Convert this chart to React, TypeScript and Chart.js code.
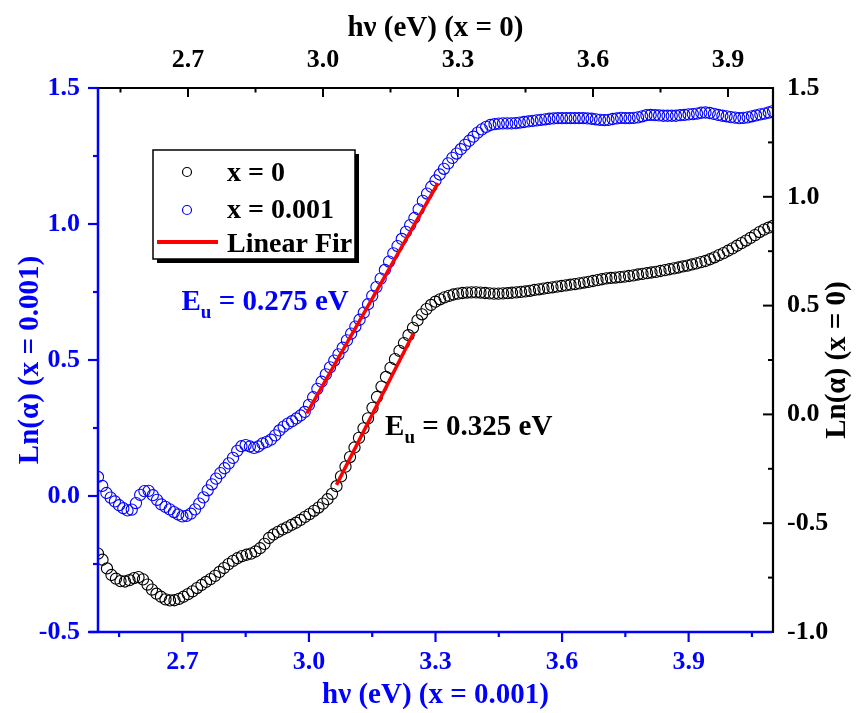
import React, { useEffect, useRef } from 'react';
import { Chart, registerables } from 'chart.js';

Chart.register(...registerables);

const FONT = "'Liberation Serif', 'Times New Roman', serif";
const BLUE = '#0000ff';
const RED = '#ff0000';

// x = 0 sample: photon energy (top axis, eV) and Ln(alpha) (right axis)
const energyX0: number[] = [
  2.50, 2.51, 2.52, 2.53, 2.54, 2.55, 2.56, 2.57, 2.58, 2.59,
  2.60, 2.61, 2.62, 2.63, 2.64, 2.65, 2.66, 2.67, 2.68, 2.69,
  2.70, 2.71, 2.72, 2.73, 2.74, 2.75, 2.76, 2.77, 2.78, 2.79,
  2.80, 2.81, 2.82, 2.83, 2.84, 2.85, 2.86, 2.87, 2.88, 2.89,
  2.90, 2.91, 2.92, 2.93, 2.94, 2.95, 2.96, 2.97, 2.98, 2.99,
  3.00, 3.01, 3.02, 3.03, 3.04, 3.05, 3.06, 3.07, 3.08, 3.09,
  3.10, 3.11, 3.12, 3.13, 3.14, 3.15, 3.16, 3.17, 3.18, 3.19,
  3.20, 3.21, 3.22, 3.23, 3.24, 3.25, 3.26, 3.27, 3.28, 3.29,
  3.30, 3.31, 3.32, 3.33, 3.34, 3.35, 3.36, 3.37, 3.38, 3.39,
  3.40, 3.41, 3.42, 3.43, 3.44, 3.45, 3.46, 3.47, 3.48, 3.49,
  3.50, 3.51, 3.52, 3.53, 3.54, 3.55, 3.56, 3.57, 3.58, 3.59,
  3.60, 3.61, 3.62, 3.63, 3.64, 3.65, 3.66, 3.67, 3.68, 3.69,
  3.70, 3.71, 3.72, 3.73, 3.74, 3.75, 3.76, 3.77, 3.78, 3.79,
  3.80, 3.81, 3.82, 3.83, 3.84, 3.85, 3.86, 3.87, 3.88, 3.89,
  3.90, 3.91, 3.92, 3.93, 3.94, 3.95, 3.96, 3.97, 3.98, 3.99,
  4.00,
];
const lnAlphaX0: number[] = [
  -0.640, -0.668, -0.708, -0.738, -0.755, -0.766, -0.768, -0.762, -0.752, -0.748,
  -0.758, -0.782, -0.805, -0.824, -0.838, -0.850, -0.855, -0.854, -0.848, -0.838,
  -0.826, -0.813, -0.798, -0.784, -0.770, -0.757, -0.742, -0.724, -0.706, -0.688,
  -0.673, -0.661, -0.651, -0.645, -0.640, -0.630, -0.615, -0.595, -0.568, -0.552,
  -0.540, -0.529, -0.519, -0.508, -0.498, -0.485, -0.471, -0.458, -0.443, -0.428,
  -0.410, -0.390, -0.365, -0.330, -0.285, -0.240, -0.196, -0.152, -0.108, -0.064,
  -0.018, 0.030, 0.080, 0.128, 0.172, 0.214, 0.254, 0.292, 0.328, 0.364,
  0.398, 0.432, 0.460, 0.484, 0.503, 0.518, 0.529, 0.538, 0.545, 0.551,
  0.555, 0.558, 0.560, 0.561, 0.561, 0.560, 0.558, 0.556, 0.555, 0.555,
  0.556, 0.557, 0.559, 0.561, 0.563, 0.565, 0.568, 0.572, 0.575, 0.578,
  0.581, 0.584, 0.587, 0.590, 0.593, 0.596, 0.599, 0.602, 0.606, 0.609,
  0.613, 0.617, 0.621, 0.625, 0.627, 0.629, 0.631, 0.633, 0.636, 0.639,
  0.643, 0.646, 0.649, 0.652, 0.655, 0.659, 0.663, 0.667, 0.671, 0.675,
  0.680, 0.684, 0.689, 0.694, 0.700, 0.705, 0.713, 0.722, 0.732, 0.741,
  0.752, 0.763, 0.775, 0.787, 0.799, 0.811, 0.824, 0.838, 0.849, 0.858,
  0.866,
];

// x = 0.001 sample: photon energy (bottom axis, eV) and Ln(alpha) (left axis)
const energyX001: number[] = [
  2.50, 2.51, 2.52, 2.53, 2.54, 2.55, 2.56, 2.57, 2.58, 2.59,
  2.60, 2.61, 2.62, 2.63, 2.64, 2.65, 2.66, 2.67, 2.68, 2.69,
  2.70, 2.71, 2.72, 2.73, 2.74, 2.75, 2.76, 2.77, 2.78, 2.79,
  2.80, 2.81, 2.82, 2.83, 2.84, 2.85, 2.86, 2.87, 2.88, 2.89,
  2.90, 2.91, 2.92, 2.93, 2.94, 2.95, 2.96, 2.97, 2.98, 2.99,
  3.00, 3.01, 3.02, 3.03, 3.04, 3.05, 3.06, 3.07, 3.08, 3.09,
  3.10, 3.11, 3.12, 3.13, 3.14, 3.15, 3.16, 3.17, 3.18, 3.19,
  3.20, 3.21, 3.22, 3.23, 3.24, 3.25, 3.26, 3.27, 3.28, 3.29,
  3.30, 3.31, 3.32, 3.33, 3.34, 3.35, 3.36, 3.37, 3.38, 3.39,
  3.40, 3.41, 3.42, 3.43, 3.44, 3.45, 3.46, 3.47, 3.48, 3.49,
  3.50, 3.51, 3.52, 3.53, 3.54, 3.55, 3.56, 3.57, 3.58, 3.59,
  3.60, 3.61, 3.62, 3.63, 3.64, 3.65, 3.66, 3.67, 3.68, 3.69,
  3.70, 3.71, 3.72, 3.73, 3.74, 3.75, 3.76, 3.77, 3.78, 3.79,
  3.80, 3.81, 3.82, 3.83, 3.84, 3.85, 3.86, 3.87, 3.88, 3.89,
  3.90, 3.91, 3.92, 3.93, 3.94, 3.95, 3.96, 3.97, 3.98, 3.99,
  4.00, 4.01, 4.02, 4.03, 4.04, 4.05, 4.06, 4.07, 4.08, 4.09,
  4.10,
];
const lnAlphaX001: number[] = [
  0.070, 0.037, 0.011, -0.006, -0.020, -0.034, -0.045, -0.053, -0.050, -0.026,
  0.004, 0.018, 0.019, 0.003, -0.014, -0.031, -0.040, -0.049, -0.059, -0.068,
  -0.075, -0.073, -0.065, -0.049, -0.028, -0.005, 0.021, 0.043, 0.064, 0.084,
  0.102, 0.120, 0.140, 0.166, 0.183, 0.187, 0.182, 0.177, 0.182, 0.193,
  0.199, 0.207, 0.223, 0.241, 0.255, 0.266, 0.275, 0.285, 0.296, 0.309,
  0.335, 0.363, 0.394, 0.420, 0.447, 0.473, 0.498, 0.521, 0.545, 0.572,
  0.597, 0.623, 0.648, 0.674, 0.705, 0.736, 0.768, 0.799, 0.831, 0.862,
  0.892, 0.919, 0.945, 0.971, 0.996, 1.022, 1.054, 1.085, 1.112, 1.137,
  1.160, 1.182, 1.203, 1.223, 1.243, 1.259, 1.275, 1.291, 1.306, 1.321,
  1.336, 1.348, 1.357, 1.364, 1.367, 1.369, 1.370, 1.370, 1.370, 1.371,
  1.373, 1.375, 1.377, 1.379, 1.381, 1.383, 1.385, 1.387, 1.388, 1.389,
  1.389, 1.389, 1.389, 1.389, 1.389, 1.389, 1.388, 1.387, 1.385, 1.383,
  1.382, 1.383, 1.386, 1.388, 1.390, 1.389, 1.389, 1.390, 1.392, 1.396,
  1.400, 1.401, 1.400, 1.399, 1.398, 1.398, 1.398, 1.398, 1.400, 1.401,
  1.403, 1.404, 1.406, 1.409, 1.410, 1.408, 1.405, 1.401, 1.398, 1.396,
  1.393, 1.391, 1.389, 1.390, 1.392, 1.396, 1.399, 1.403, 1.406, 1.410,
  1.415,
];

// Linear fits (Urbach region)
const fitX0Energy: number[] = [3.030, 3.201];
const fitX0Ln: number[] = [-0.324, 0.373];
const fitX001Energy: number[] = [2.995, 3.306];
const fitX001Ln: number[] = [0.304, 1.150];

// Axis ticks
const bottomMajor: number[] = [2.7, 3.0, 3.3, 3.6, 3.9];
const bottomMinor: number[] = [2.55, 2.85, 3.15, 3.45, 3.75, 4.05];
const topMajor: number[] = [2.7, 3.0, 3.3, 3.6, 3.9];
const topMinor: number[] = [2.55, 2.85, 3.15, 3.45, 3.75];
const leftMajor: number[] = [-0.5, 0.0, 0.5, 1.0, 1.5];
const leftMinor: number[] = [-0.25, 0.25, 0.75, 1.25];
const rightMajor: number[] = [-1.0, -0.5, 0.0, 0.5, 1.0, 1.5];
const rightMinor: number[] = [-0.75, -0.25, 0.25, 0.75, 1.25];

const legendLabels: string[] = ['x = 0', 'x = 0.001', 'Linear Fir'];
const rightTitle = 'Ln(α) (x = 0)';
const euX001 = { value: '0.275 eV', energy: 2.698, ln: 0.684 };
const euX0 = { value: '0.325 eV', energy: 3.138, ln: -0.095 };

const toPts = (xs: number[], ys: number[]) => xs.map((x, i) => ({ x, y: ys[i] }));

const framePlugin = {
  id: 'frame',
  beforeDraw(chart: any) {
    const ctx = chart.ctx;
    ctx.save();
    ctx.fillStyle = '#ffffff';
    ctx.fillRect(0, 0, chart.width, chart.height);
    ctx.restore();
  },
  afterDraw(chart: any) {
    const ctx = chart.ctx as CanvasRenderingContext2D;
    const { left, right, top, bottom } = chart.chartArea;
    const s = chart.scales;
    ctx.save();
    const line = (x1: number, y1: number, x2: number, y2: number, color: string, w: number) => {
      ctx.strokeStyle = color;
      ctx.lineWidth = w;
      ctx.beginPath();
      ctx.moveTo(x1, y1);
      ctx.lineTo(x2, y2);
      ctx.stroke();
    };
    // top axis (x = 0), ticks inward
    line(left, top, right + 1, top, '#000', 2.2);
    topMajor.forEach((v) => { const x = s.xTop.getPixelForValue(v); line(x, top, x, top + 9, '#000', 2); });
    topMinor.forEach((v) => { const x = s.xTop.getPixelForValue(v); line(x, top, x, top + 4.5, '#000', 2); });
    // right axis (x = 0), ticks inward
    line(right, top - 1, right, bottom + 1, '#000', 2.2);
    rightMajor.forEach((v) => { const y = s.yRight.getPixelForValue(v); line(right - 10, y, right, y, '#000', 2); });
    rightMinor.forEach((v) => { const y = s.yRight.getPixelForValue(v); line(right - 5, y, right, y, '#000', 2); });
    // left axis (x = 0.001), ticks outward
    line(left, top, left, bottom, BLUE, 2.5);
    leftMajor.forEach((v) => { const y = s.y.getPixelForValue(v); line(left - 10, y, left, y, BLUE, 2.2); });
    leftMinor.forEach((v) => { const y = s.y.getPixelForValue(v); line(left - 5, y, left, y, BLUE, 2.2); });
    // bottom axis (x = 0.001), ticks outward
    line(left - 9, bottom, right - 1, bottom, BLUE, 2.5);
    bottomMajor.forEach((v) => { const x = s.x.getPixelForValue(v); line(x, bottom, x, bottom + 10, BLUE, 2.2); });
    bottomMinor.forEach((v) => { const x = s.x.getPixelForValue(v); line(x, bottom, x, bottom + 5, BLUE, 2.2); });

    // right axis title, reading bottom to top
    ctx.save();
    ctx.translate(s.yRight.right - 27, (top + bottom) / 2);
    ctx.rotate(-Math.PI / 2);
    ctx.fillStyle = '#000';
    ctx.font = `bold 29px ${FONT}`;
    ctx.textAlign = 'center';
    ctx.textBaseline = 'middle';
    ctx.fillText(rightTitle, 0, 0);
    ctx.restore();

    // legend box with shadow
    const bx = 153, by = 150, bw = 202, bh = 109;
    ctx.fillStyle = '#000';
    ctx.fillRect(bx + 4, by + 4, bw, bh);
    ctx.fillStyle = '#fff';
    ctx.fillRect(bx, by, bw, bh);
    ctx.strokeStyle = '#000';
    ctx.lineWidth = 1.5;
    ctx.strokeRect(bx, by, bw, bh);
    ctx.lineWidth = 1.2;
    ctx.strokeStyle = '#000';
    ctx.beginPath(); ctx.arc(187, 172, 4.5, 0, Math.PI * 2); ctx.stroke();
    ctx.strokeStyle = BLUE;
    ctx.beginPath(); ctx.arc(187, 210, 4.5, 0, Math.PI * 2); ctx.stroke();
    line(157, 242, 218, 242, RED, 4);
    ctx.fillStyle = '#000';
    ctx.font = `bold 28px ${FONT}`;
    ctx.textAlign = 'left';
    ctx.textBaseline = 'alphabetic';
    ctx.fillText(legendLabels[0], 227, 181);
    ctx.fillText(legendLabels[1], 227, 218);
    ctx.fillText(legendLabels[2], 227, 252);

    // Urbach energy labels
    const drawEu = (x: number, y: number, color: string, value: string) => {
      ctx.fillStyle = color;
      ctx.textAlign = 'left';
      ctx.textBaseline = 'alphabetic';
      ctx.font = `bold 29px ${FONT}`;
      ctx.fillText('E', x, y);
      let w = ctx.measureText('E').width;
      ctx.font = `bold 19px ${FONT}`;
      ctx.fillText('u', x + w, y + 8);
      w += ctx.measureText('u').width;
      ctx.font = `bold 29px ${FONT}`;
      ctx.fillText(' = ' + value, x + w, y);
    };
    drawEu(s.x.getPixelForValue(euX001.energy), s.y.getPixelForValue(euX001.ln), BLUE, euX001.value);
    drawEu(s.xTop.getPixelForValue(euX0.energy), s.yRight.getPixelForValue(euX0.ln), '#000', euX0.value);
    ctx.restore();
  },
};

const tickFont = { family: FONT, size: 26, weight: 'bold' as const };
const titleFont = { family: FONT, size: 29, weight: 'bold' as const, lineHeight: 1 };
const fmt = (v: any) => Number(v).toFixed(1);

export default function App() {
  const ref = useRef<HTMLCanvasElement | null>(null);
  useEffect(() => {
    if (!ref.current) return;
    const chart = new Chart(ref.current, {
      type: 'scatter',
      data: {
        datasets: [
          {
            label: 'fit x = 0',
            data: toPts(fitX0Energy, fitX0Ln),
            xAxisID: 'xTop',
            yAxisID: 'yRight',
            showLine: true,
            borderColor: RED,
            borderWidth: 3.5,
            pointRadius: 0,
          },
          {
            label: 'fit x = 0.001',
            data: toPts(fitX001Energy, fitX001Ln),
            xAxisID: 'x',
            yAxisID: 'y',
            showLine: true,
            borderColor: RED,
            borderWidth: 3.5,
            pointRadius: 0,
          },
          {
            label: 'x = 0',
            data: toPts(energyX0, lnAlphaX0),
            xAxisID: 'xTop',
            yAxisID: 'yRight',
            showLine: false,
            pointRadius: 5.6,
            pointBorderWidth: 1.1,
            pointBorderColor: '#000',
            pointBackgroundColor: 'rgba(0,0,0,0)',
          },
          {
            label: 'x = 0.001',
            data: toPts(energyX001, lnAlphaX001),
            xAxisID: 'x',
            yAxisID: 'y',
            showLine: false,
            pointRadius: 5.6,
            pointBorderWidth: 1.1,
            pointBorderColor: BLUE,
            pointBackgroundColor: 'rgba(0,0,0,0)',
          },
        ],
      },
      options: {
        animation: false,
        responsive: false,
        devicePixelRatio: 1,
        layout: { padding: 0 },
        plugins: { legend: { display: false }, tooltip: { enabled: false } },
        events: [],
        scales: {
          x: {
            type: 'linear',
            position: 'bottom',
            min: 2.5,
            max: 4.1,
            grid: { display: false, drawTicks: false },
            border: { display: false },
            afterBuildTicks: (sc: any) => { sc.ticks = bottomMajor.map((v) => ({ value: v })); },
            afterFit: (sc: any) => { sc.height = 81; },
            ticks: { color: BLUE, font: tickFont, padding: 15, autoSkip: false, maxRotation: 0, callback: fmt },
            title: { display: true, text: 'hν (eV) (x = 0.001)', color: BLUE, font: titleFont, padding: { top: 0, bottom: 3 } },
          },
          xTop: {
            type: 'linear',
            position: 'top',
            min: 2.5,
            max: 4.0,
            grid: { display: false, drawTicks: false },
            border: { display: false },
            afterBuildTicks: (sc: any) => { sc.ticks = topMajor.map((v) => ({ value: v })); },
            afterFit: (sc: any) => { sc.height = 88; },
            ticks: { color: '#000', font: tickFont, padding: 12, autoSkip: false, maxRotation: 0, callback: fmt },
            title: { display: true, text: 'hν (eV) (x = 0)', color: '#000', font: titleFont, padding: { top: 14, bottom: 0 } },
          },
          y: {
            type: 'linear',
            position: 'left',
            min: -0.5,
            max: 1.5,
            grid: { display: false, drawTicks: false },
            border: { display: false },
            afterBuildTicks: (sc: any) => { sc.ticks = leftMajor.map((v) => ({ value: v })); },
            afterFit: (sc: any) => { sc.width = 98; },
            ticks: { color: BLUE, font: tickFont, padding: 18, autoSkip: false, callback: fmt },
            title: { display: true, text: 'Ln(α) (x = 0.001)', color: BLUE, font: titleFont, padding: { top: 16, bottom: 0 } },
          },
          yRight: {
            type: 'linear',
            position: 'right',
            min: -1.0,
            max: 1.5,
            grid: { display: false, drawTicks: false },
            border: { display: false },
            afterBuildTicks: (sc: any) => { sc.ticks = rightMajor.map((v) => ({ value: v })); },
            afterFit: (sc: any) => { sc.width = 92; },
            ticks: { color: '#000', font: tickFont, padding: 14, autoSkip: false, callback: fmt },
            title: { display: false },
          },
        },
      } as any,
      plugins: [framePlugin],
    });
    return () => chart.destroy();
  }, []);

  return (
    <div style={{ position: 'fixed', left: 0, top: 0, width: 865, height: 713, background: '#fff' }}>
      <canvas ref={ref} width={865} height={713} style={{ display: 'block', width: 865, height: 713 }} />
    </div>
  );
}
